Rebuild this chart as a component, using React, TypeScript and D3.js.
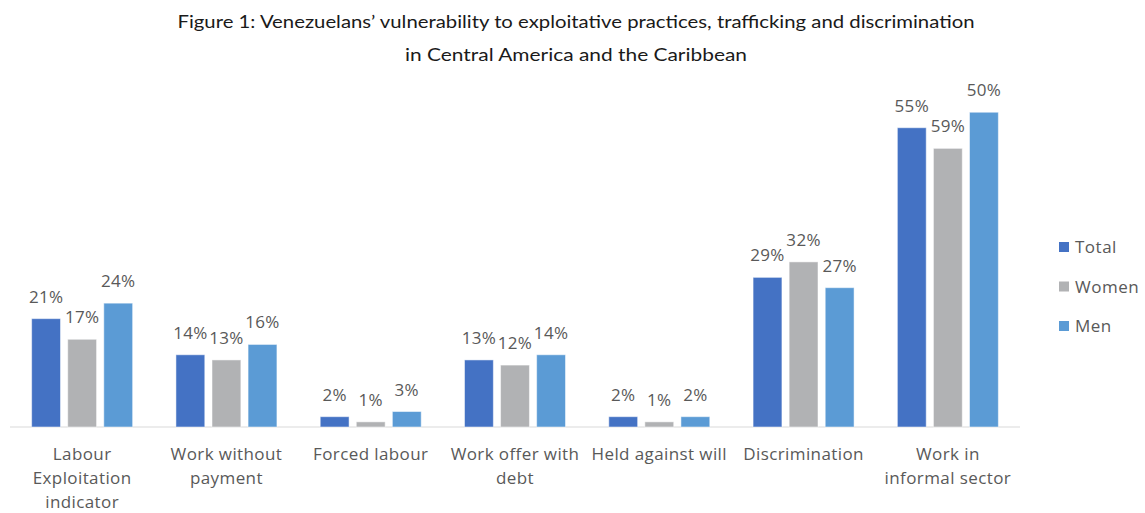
import React from "react";
import * as d3 from "d3";

// chart data
const categories = [
  "Labour Exploitation indicator",
  "Work without payment",
  "Forced labour",
  "Work offer with debt",
  "Held against will",
  "Discrimination",
  "Work in informal sector",
];
// how Excel wrapped the axis labels
const categoryLines = [
  ["Labour", "Exploitation", "indicator"],
  ["Work without", "payment"],
  ["Forced labour"],
  ["Work offer with", "debt"],
  ["Held against will"],
  ["Discrimination"],
  ["Work in", "informal sector"],
];
const series = ["Total", "Women", "Men"];
// bar heights as drawn (percent)
const totalValues = [21, 14, 2, 13, 2, 29, 58];
const womenValues = [17, 13, 1, 12, 1, 32, 54];
const menValues = [24, 16, 3, 14, 2, 27, 61];
// data labels as printed in the source figure
const totalLabels = ["21%", "14%", "2%", "13%", "2%", "29%", "55%"];
const womenLabels = ["17%", "13%", "1%", "12%", "1%", "32%", "59%"];
const menLabels = ["24%", "16%", "3%", "14%", "2%", "27%", "50%"];

const colors = ["#4472C4", "#B1B2B4", "#5B9BD5"];
const W = 1145;
const H = 513;
const font = "'Open Sans', 'Noto Sans', sans-serif";
const textColor = "#595959";

export default function App() {
  const values = [totalValues, womenValues, menValues];
  const labels = [totalLabels, womenLabels, menLabels];

  const x0 = d3.scaleBand<string>().domain(categories).range([10, 1020]).paddingInner(0.3).paddingOuter(0.15);
  const x1 = d3.scaleBand<string>().domain(series).range([0, x0.bandwidth()]).paddingInner(0.2);
  const y = d3.scaleLinear().domain([0, 70]).range([427, 427 - 70 * 5.16]);

  return (
    <svg width={W} height={H} style={{ position: "absolute", left: 0, top: 0, background: "#fff" }}>
      <g fontFamily="Lato, 'Gill Sans', sans-serif" fontSize={18} fill="#1a1a1a" textAnchor="middle">
        <text x={576} y={28} textLength={797} lengthAdjust="spacingAndGlyphs">
          Figure 1: Venezuelans’ vulnerability to exploitative practices, trafficking and discrimination
        </text>
        <text x={576} y={61} textLength={342} lengthAdjust="spacingAndGlyphs">
          in Central America and the Caribbean
        </text>
      </g>

      <line x1={10} x2={1020} y1={y(0)} y2={y(0)} stroke="#D9D9D9" strokeWidth={1} />

      {categories.map((c, i) => (
        <g key={c} transform={`translate(${x0(c)},0)`}>
          {series.map((s, j) => {
            const v = values[j][i];
            const bx = x1(s)!;
            return (
              <g key={s}>
                <rect
                  x={bx}
                  y={y(v)}
                  width={x1.bandwidth()}
                  height={y(0) - y(v)}
                  fill={colors[j]}
                  stroke="#fff"
                  strokeOpacity={0.5}
                  strokeWidth={1}
                />
                <text
                  x={bx + x1.bandwidth() / 2}
                  y={y(v) - 16}
                  textAnchor="middle"
                  fontFamily={font}
                  fontSize={17}
                  letterSpacing={0.3}
                  fill={textColor}
                >
                  {labels[j][i]}
                </text>
              </g>
            );
          })}
          {categoryLines[i].map((line, k) => (
            <text
              key={k}
              x={x0.bandwidth() / 2}
              y={460 + k * 24}
              textAnchor="middle"
              fontFamily={font}
              fontSize={17}
              letterSpacing={0.4}
              fill={textColor}
            >
              {line}
            </text>
          ))}
        </g>
      ))}

      {series.map((s, j) => (
        <g key={s} transform={`translate(1059,${247 + j * 39.5})`}>
          <rect x={0} y={-5} width={10} height={10} fill={colors[j]} />
          <text x={16} y={6} fontFamily={font} fontSize={17} letterSpacing={0.5} fill={textColor}>
            {s}
          </text>
        </g>
      ))}
    </svg>
  );
}
